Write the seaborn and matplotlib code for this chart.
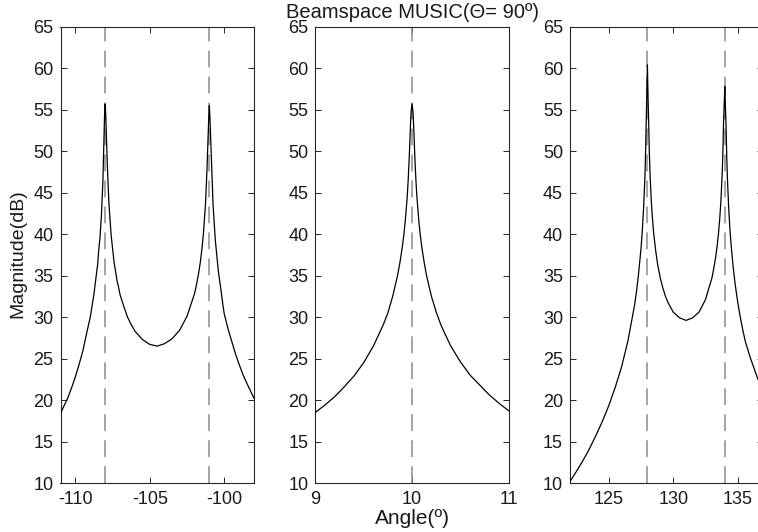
import numpy as np
import pandas as pd
import matplotlib
matplotlib.use("Agg")
import matplotlib.pyplot as plt
import seaborn as sns

# ---------------- data ----------------
p1_angle = [-111.0, -110.5, -110.25, -110.0, -109.75, -109.5, -109.25, -109.0, -108.75,
            -108.6, -108.5, -108.45, -108.35, -108.3, -108.25, -108.15, -108.08, -108.04,
            -108.0, -107.96, -107.92, -107.85, -107.75, -107.6, -107.4, -107.3, -107.2,
            -107.1, -107.0, -106.75, -106.5, -106.25, -106.0, -105.75, -105.5, -105.0,
            -104.5, -104.0, -103.5, -103.0, -102.5, -102.0, -101.9, -101.8, -101.7,
            -101.6, -101.5, -101.4, -101.25, -101.15, -101.08, -101.04, -101.0, -100.96,
            -100.92, -100.85, -100.75, -100.6, -100.4, -100.3, -100.2, -100.1, -100.0,
            -99.75, -99.5, -99.25, -99.0, -98.75, -98.5, -98.0]
p1_mag = [18.4, 20.3, 21.5, 22.8, 24.3, 25.9, 28.0, 30.0, 32.8,
          35.0, 36.4, 37.7, 39.5, 40.9, 42.3, 46.5, 51.5, 54.3,
          55.7, 54.3, 52.0, 48.1, 43.8, 39.9, 36.6, 35.5, 34.4,
          33.6, 32.7, 31.3, 30.0, 29.1, 28.3, 27.8, 27.3, 26.7,
          26.5, 26.8, 27.4, 28.4, 30.1, 32.8, 33.6, 34.5, 35.5,
          36.7, 38.2, 40.0, 43.9, 48.2, 52.0, 54.0, 55.5, 54.0,
          52.0, 48.5, 43.5, 39.3, 35.6, 34.3, 33.0, 31.6, 30.4,
          28.6, 27.1, 25.6, 24.3, 23.1, 22.1, 20.2]

p2_angle = [9.0, 9.1, 9.2, 9.3, 9.4, 9.5, 9.6, 9.7, 9.75, 9.8, 9.85, 9.875, 9.9, 9.915,
            9.93, 9.95, 9.96, 9.97, 9.985, 9.99, 10.0, 10.01, 10.015, 10.03, 10.04,
            10.05, 10.07, 10.085, 10.1, 10.125, 10.15, 10.2, 10.25, 10.3, 10.4, 10.5,
            10.6, 10.7, 10.8, 10.9, 11.0]
p2_mag = [18.5, 19.4, 20.4, 21.6, 22.9, 24.5, 26.5, 29.0, 30.5, 32.5, 35.0, 36.6, 38.5, 39.9,
          41.6, 44.5, 46.5, 49.0, 53.5, 54.7, 55.7, 54.7, 53.5, 49.0, 46.5,
          44.5, 41.6, 39.9, 38.5, 36.6, 35.0, 32.5, 30.6, 29.0, 26.5, 24.6,
          23.0, 21.8, 20.6, 19.6, 18.7]

p3_angle = [122.0, 122.5, 123.0, 123.5, 124.0, 124.5, 125.0, 125.5, 126.0, 126.5,
            127.0, 127.15, 127.3, 127.5, 127.6, 127.7, 127.8, 127.85, 127.9, 127.95,
            128.0, 128.05, 128.1, 128.15, 128.2, 128.3, 128.4, 128.5, 128.65, 128.8,
            129.0, 129.2, 129.4, 129.6, 130.0, 130.5, 131.0, 131.5, 132.0, 132.5,
            133.0, 133.15, 133.3, 133.4, 133.5, 133.6, 133.7, 133.8, 133.85, 133.9,
            133.95, 134.0, 134.05, 134.1, 134.15, 134.2, 134.3, 134.4, 134.5, 134.65,
            134.8, 135.0, 135.2, 135.4, 135.6, 135.8, 136.0, 136.25, 136.5, 136.75,
            137.0]
p3_mag = [10.2, 11.4, 12.7, 14.1, 15.7, 17.4, 19.3, 21.5, 24.0, 27.2,
          31.4, 33.0, 35.0, 38.2, 40.3, 43.0, 46.6, 49.2, 52.9, 56.5,
          60.4, 56.5, 53.3, 49.8, 47.4, 44.0, 41.7, 39.9, 37.9, 36.3,
          34.7, 33.5, 32.5, 31.75, 30.6, 29.9, 29.6, 29.9, 30.6, 32.1,
          34.7, 35.9, 37.3, 38.5, 39.9, 41.7, 44.0, 47.4, 49.8, 53.3,
          55.5, 57.8, 55.3, 53.0, 49.4, 46.8, 43.2, 40.5, 38.5, 36.0,
          34.0, 31.8, 30.0, 28.4, 27.0, 26.0, 25.0, 23.9, 22.8, 21.8,
          20.8]

true_angles = [[-108.0, -101.0], [10.0], [128.0, 134.0]]
x_limits = [(-111.0, -98.0), (9.0, 11.0), (122.0, 137.0)]
x_ticks = [[-110, -105, -100], [9, 10, 11], [125, 130, 135]]
y_ticks = list(range(10, 70, 5))

title = "Beamspace MUSIC(Θ= 90º)"
xlabel = "Angle(º)"
ylabel = "Magnitude(dB)"

# ---------------- style ----------------
sns.set_theme(style="white")
plt.rcParams["font.family"] = ["Liberation Sans", "DejaVu Sans"]
plt.rcParams["axes.unicode_minus"] = False
axcol = "#262626"
txtcol = "#1a1a1a"

W, H = 758, 532
fig = plt.figure(figsize=(W / 100, H / 100), dpi=100)

lefts = [60.5, 315.3, 570.0]
axw = 193.5
top_px, bot_px = 26.7, 483.0
axes = []
for lp in lefts:
    ax = fig.add_axes([lp / W, (H - bot_px) / H, axw / W, (bot_px - top_px) / H])
    axes.append(ax)

panels = [(p1_angle, p1_mag), (p2_angle, p2_mag), (p3_angle, p3_mag)]
for i, (ax, (xa, ya)) in enumerate(zip(axes, panels)):
    df = pd.DataFrame({"angle": xa, "mag": ya})
    for ta in true_angles[i]:
        ax.axvline(ta, color="#8c8c8c", lw=1.1, ls=(0, (11, 6)), zorder=1)
    sns.lineplot(data=df, x="angle", y="mag", ax=ax, color="black", lw=0.9,
                 estimator=None, sort=False, zorder=3)
    ax.set_xlim(*x_limits[i])
    ax.set_ylim(10, 65)
    ax.set_xticks(x_ticks[i])
    ax.set_yticks(y_ticks)
    ax.set_xlabel("")
    ax.set_ylabel("")
    ax.tick_params(direction="in", length=4.5, width=0.7, color=axcol,
                   labelsize=13, labelcolor=txtcol,
                   top=True, right=True, bottom=True, left=True)
    ax.tick_params(axis="x", pad=6)
    ax.tick_params(axis="y", pad=5)
    for s in ax.spines.values():
        s.set_visible(True)
        s.set_color(axcol)
        s.set_linewidth(0.8)
    ax.set_facecolor("white")

fig.text((lefts[1] + axw / 2) / W, 1 - 12 / H, title, ha="center", va="center",
         fontsize=14.5, color=txtcol)
fig.text((lefts[1] + axw / 2) / W, 1 - 518 / H, xlabel, ha="center", va="center",
         fontsize=15, color=txtcol)
fig.text(18 / W, 1 - 254 / H, ylabel, ha="center", va="center", rotation=90,
         fontsize=14, color=txtcol)

fig.savefig("out.png", dpi=100, facecolor="white")
